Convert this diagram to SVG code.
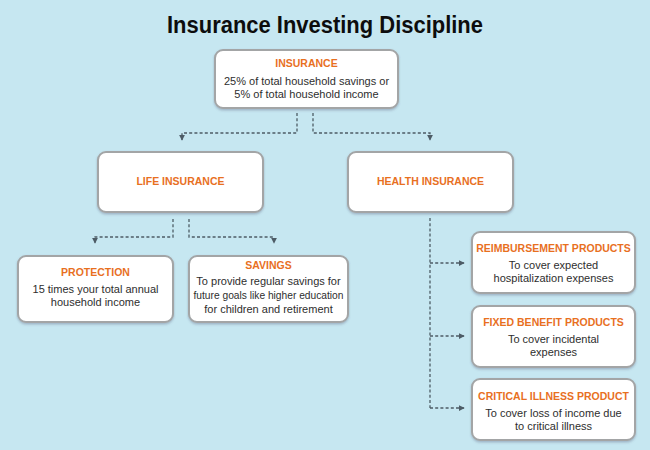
<svg xmlns="http://www.w3.org/2000/svg" width="650" height="450" viewBox="0 0 650 450">
<defs>
<style>
.box{fill:#fff;stroke:#a3a5a6;stroke-width:2}
.hd{font-family:"Liberation Sans",Arial,sans-serif;font-weight:bold;font-size:10.5px;fill:#e8701f;text-anchor:middle}
.tx{font-family:"Liberation Sans",Arial,sans-serif;font-size:11px;fill:#2e2e2e;text-anchor:middle}
.ln{fill:none;stroke:#4d5c66;stroke-width:1.3;stroke-dasharray:3,2.2}
</style>
<filter id="sh" x="-10%" y="-10%" width="120%" height="130%">
<feDropShadow dx="0" dy="1.5" stdDeviation="1.2" flood-color="#557" flood-opacity="0.35"/>
</filter>
<marker id="ar" viewBox="0 0 8 8" refX="7" refY="4" markerWidth="6" markerHeight="6" orient="auto" markerUnits="userSpaceOnUse">
<path d="M0,0 L8,4 L0,8 z" fill="#4d5c66"/>
</marker>
</defs>
<rect width="650" height="450" fill="#c6e7f1"/>
<text x="325" y="33" font-family="Liberation Sans,Arial,sans-serif" font-weight="bold" font-size="23" text-anchor="middle" fill="#0d0d0d" textLength="316" lengthAdjust="spacingAndGlyphs">Insurance Investing Discipline</text>

<g id="connectors">
<path class="ln" d="M297,113 V133 H182 V140" marker-end="url(#ar)"/>
<path class="ln" d="M313,113 V133 H430 V140" marker-end="url(#ar)"/>
<path class="ln" d="M173,219 V237 H95 V243" marker-end="url(#ar)"/>
<path class="ln" d="M189,219 V237 H274 V243" marker-end="url(#ar)"/>
<path class="ln" d="M430,218 V408"/>
<path class="ln" d="M430,263 H464" marker-end="url(#ar)"/>
<path class="ln" d="M430,336 H464" marker-end="url(#ar)"/>
<path class="ln" d="M430,408 H464" marker-end="url(#ar)"/>
</g>

<g id="insurance">
<rect class="box" x="215" y="50" width="183" height="58" rx="8" filter="url(#sh)"/>
<text class="hd" x="306.5" y="67">INSURANCE</text>
<text class="tx" x="306.5" y="85">25% of total household savings or</text>
<text class="tx" x="306.5" y="98">5% of total household income</text>
</g>

<g id="life">
<rect class="box" x="98" y="152" width="165" height="60" rx="8" filter="url(#sh)"/>
<text class="hd" x="180.5" y="185">LIFE INSURANCE</text>
</g>

<g id="health">
<rect class="box" x="348" y="152" width="165" height="60" rx="8" filter="url(#sh)"/>
<text class="hd" x="430.5" y="185">HEALTH INSURANCE</text>
</g>

<g id="protection">
<rect class="box" x="18" y="256" width="155" height="66" rx="8" filter="url(#sh)"/>
<text class="hd" x="95.5" y="276">PROTECTION</text>
<text class="tx" x="95.5" y="293">15 times your total annual</text>
<text class="tx" x="95.5" y="306">household income</text>
</g>

<g id="savings">
<rect class="box" x="189" y="256" width="159" height="66" rx="8" filter="url(#sh)"/>
<text class="hd" x="268.5" y="269">SAVINGS</text>
<text class="tx" x="268.5" y="285">To provide regular savings for</text>
<text class="tx" x="268.5" y="299" textLength="150" lengthAdjust="spacingAndGlyphs">future goals like higher education</text>
<text class="tx" x="268.5" y="313">for children and retirement</text>
</g>

<g id="reimbursement">
<rect class="box" x="472" y="232" width="163" height="61" rx="8" filter="url(#sh)"/>
<text class="hd" x="553.5" y="252">REIMBURSEMENT PRODUCTS</text>
<text class="tx" x="553.5" y="269">To cover expected</text>
<text class="tx" x="553.5" y="282">hospitalization expenses</text>
</g>

<g id="fixed">
<rect class="box" x="472" y="306" width="163" height="61" rx="8" filter="url(#sh)"/>
<text class="hd" x="553.5" y="326">FIXED BENEFIT PRODUCTS</text>
<text class="tx" x="553.5" y="343">To cover incidental</text>
<text class="tx" x="553.5" y="356">expenses</text>
</g>

<g id="critical">
<rect class="box" x="472" y="379" width="163" height="61" rx="8" filter="url(#sh)"/>
<text class="hd" x="553.5" y="400">CRITICAL ILLNESS PRODUCT</text>
<text class="tx" x="553.5" y="417">To cover loss of income due</text>
<text class="tx" x="553.5" y="430">to critical illness</text>
</g>
</svg>
